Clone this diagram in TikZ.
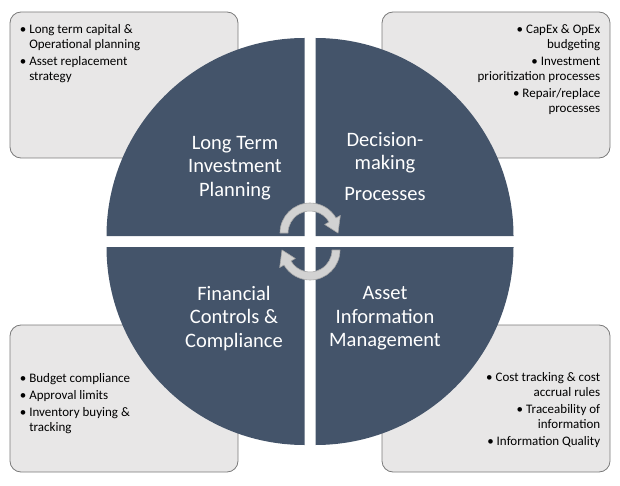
\documentclass[tikz,border=0pt]{standalone}
\usepackage{fontspec}
\setmainfont{Carlito}
\usepackage{tikz}
\usetikzlibrary{positioning}

\definecolor{quadblue}{HTML}{44546A}
\definecolor{boxgray}{HTML}{E8E7E7}
\definecolor{boxedge}{HTML}{7A7A7A}
\definecolor{cycfill}{HTML}{D2D2D2}
\definecolor{cycedge}{HTML}{A8A8A8}

\newcommand{\bul}{\makebox[9.5pt][l]{\textbullet}}
\newcommand{\bulcont}{\hspace*{9.5pt}}

\begin{document}
\begin{tikzpicture}[
  x=1pt, y=1pt,
  infobox/.style={draw=boxedge, fill=boxgray, rounded corners=11pt, line width=0.8pt,
                  minimum width=228pt, minimum height=146pt},
  quad/.style={fill=quadblue},
  qtext/.style={text=white, align=center, font=\fontsize{20.5}{23.5}\selectfont},
  btext/.style={inner sep=0pt, font=\fontsize{13}{15}\selectfont},
  cycarrow/.style={fill=cycfill, draw=cycedge, line width=0.6pt, line join=round}
]
\useasboundingbox (0,0) rectangle (620,485);

% Side boxes
\node[infobox] (boxtl) at (124,400) {};
\node[infobox] (boxtr) at (496,400) {};
\node[infobox, minimum height=147pt] (boxbl) at (124,86.5) {};
\node[infobox, minimum height=147pt] (boxbr) at (496,86.5) {};

% Quadrants of the disc
\coordinate (mid) at (310,243.5);
\fill[quad] ([shift={(-5.5,5.5)}]mid) -- ++(-198,0) arc[start angle=180, end angle=90, radius=198] -- cycle;
\fill[quad] ([shift={(5.5,5.5)}]mid) -- ++(0,198) arc[start angle=90, end angle=0, radius=198] -- cycle;
\fill[quad] ([shift={(5.5,-5.5)}]mid) -- ++(198,0) arc[start angle=0, end angle=-90, radius=198] -- cycle;
\fill[quad] ([shift={(-5.5,-5.5)}]mid) -- ++(0,-198) arc[start angle=270, end angle=180, radius=198] -- cycle;

% Quadrant titles
\node[qtext] (ltip) at (235,317) {Long Term\\Investment\\Planning};
\node[qtext] (dmp) at (385,318.5) {Decision-\\making\\[7pt]Processes};
\node[qtext] (fcc) at (234,166.5) {Financial\\Controls \&\\Compliance};
\node[qtext] (aim) at (385,166.5) {Asset\\Information\\Management};

% Cycle arrows in the middle
\filldraw[cycarrow, shift={(310,252)}] (180:30) arc[start angle=180, end angle=30, radius=30]
  -- (30:35) -- (0:28) -- (30:17) -- (30:22) arc[start angle=30, end angle=180, radius=22] -- cycle;
\filldraw[cycarrow, shift={(310,235)}] (0:30) arc[start angle=0, end angle=-150, radius=30]
  -- (210:35) -- (180:28) -- (210:17) -- (210:22) arc[start angle=-150, end angle=0, radius=22] -- cycle;

% Box texts
\node[btext, align=left, below right=12.5pt and 10pt of boxtl.north west] (tltext)
  {\bul Long term capital \&\\\bulcont Operational planning\\[2pt]\bul Asset replacement\\\bulcont strategy};
\node[btext, align=right, below left=13pt and 10pt of boxtr.north east] (trtext)
  {\textbullet\hspace{3pt}CapEx \& OpEx\\budgeting\\[2pt]\textbullet\hspace{3pt}Investment\\prioritization processes\\[2pt]\textbullet\hspace{3pt}Repair/replace\\processes};
\node[btext, align=left, below right=49pt and 10pt of boxbl.north west] (bltext)
  {\bul Budget compliance\\[2pt]\bul Approval limits\\[2pt]\bul Inventory buying \&\\\bulcont tracking};
\node[btext, align=right, below left=48pt and 10pt of boxbr.north east] (brtext)
  {\textbullet\hspace{3pt}Cost tracking \& cost\\accrual rules\\[2pt]\textbullet\hspace{3pt}Traceability of\\information\\[2pt]\textbullet\hspace{3pt}Information Quality};

\end{tikzpicture}
\end{document}
